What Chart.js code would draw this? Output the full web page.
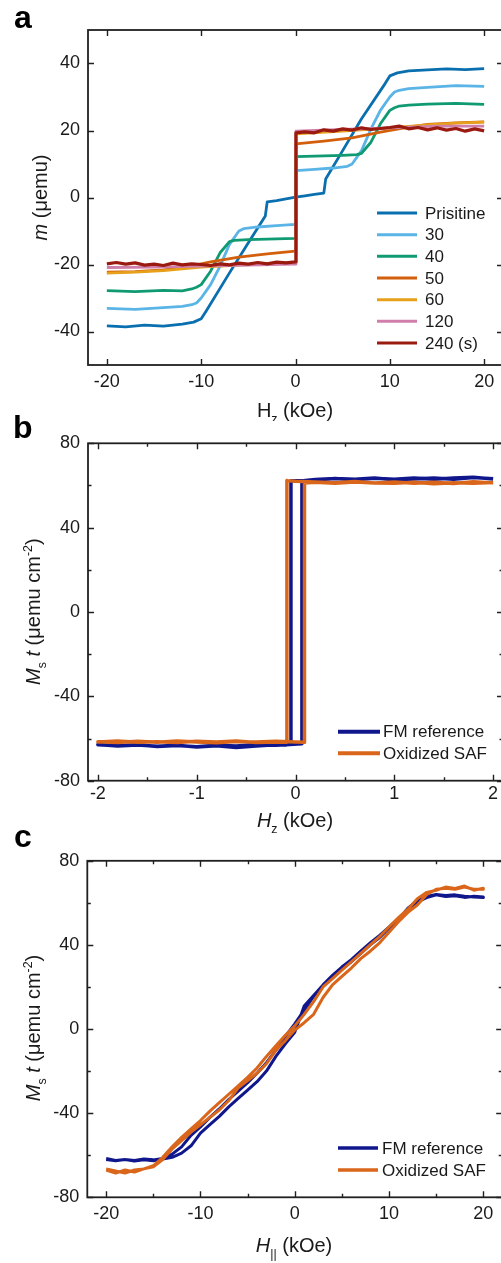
<!DOCTYPE html>
<html><head><meta charset="utf-8">
<script src="https://cdn.jsdelivr.net/npm/chart.js@4.4.0/dist/chart.umd.min.js"></script>
<style>
html,body{margin:0;padding:0;background:#fff;}
#wrap{position:relative;width:501px;height:1263px;overflow:hidden;background:#fff;}
.pc{position:absolute;left:0;width:520px;height:421px;}
.lab{position:absolute;font:bold 32px "Liberation Sans",Arial,sans-serif;line-height:32px;color:#000;}
</style></head>
<body><div id="wrap">
<div class="pc" style="top:0"><canvas id="ca" width="520" height="421"></canvas></div>
<div class="pc" style="top:421px"><canvas id="cb" width="520" height="421"></canvas></div>
<div class="pc" style="top:842px"><canvas id="cc" width="520" height="421"></canvas></div>
<div class="lab" style="left:14px;top:1px">a</div>
<div class="lab" style="left:13px;top:411px">b</div>
<div class="lab" style="left:14px;top:820px">c</div>
</div>
<script>
// ---------- Panel a : m (uemu) vs Hz (kOe) ----------
const aLabels = ['Pristine','30','40','50','60','120','240 (s)'];
const aLegendText = ['Prisitine','30','40','50','60','120','240 (s)'];
const aColors = ['#0a6fae','#5ab4e6','#0f9a72','#d35f0c','#e6a01a','#d07fab','#9a1a10'];
const aPristineH = [-20,-18,-16,-14,-12,-10.8,-10,-9.5,-7,-5,-3.2,-3.0,-2,-1,0,1,2,3.0,3.2,5,7,9.5,10,10.8,12,14,16,18,20];
const aPristineM = [-38.3,-38.6,-38.1,-38.4,-37.8,-37.2,-36.2,-34,-22.5,-13.5,-5.5,-1.3,-0.9,-0.4,0.1,0.5,0.9,1.3,5.5,14,23.5,34,36.3,37.2,37.8,38.1,38.4,38.2,38.5];
const a30H = [-20,-17,-14,-12,-11,-10.5,-10,-9,-8,-7,-6,-5.5,-4,-2,-0.05,0.05,2,4,5.5,6,7,8,9,10,10.5,11,12,14,17,20];
const a30M = [-33.1,-33.4,-32.9,-32.5,-32,-31.5,-30,-26,-20.5,-14,-10,-9.3,-8.8,-8.4,-8,8,8.4,8.8,9.3,10,14,20.5,26,30,31.5,32,32.5,32.9,33.4,33.2];
const a40H = [-20,-17,-14,-12,-11,-10.5,-10,-9,-8,-7,-6.5,-5,-3,-0.05,0.05,3,5,6.5,7,8,9,10,10.5,11,12,14,17,20];
const a40M = [-27.8,-28.1,-27.7,-27.9,-27.3,-26.8,-26,-22,-16.5,-13.2,-12.8,-12.6,-12.4,-12.2,12.2,12.4,12.6,12.8,13.2,16.5,22,26,26.8,27.3,27.6,27.9,28.1,27.8];
const a50H = [-20,-17,-14,-12,-9,-6,-3,-0.05,0.05,3,6,9,12,14,17,20];
const a50M = [-22.3,-22.1,-21.6,-21,-19.2,-17.8,-16.8,-16,16,16.8,17.8,19.5,21,21.8,22.3,22.6];
const a60H = [-20,-17,-14,-10,-5,-0.05,0.05,5,10,14,17,20];
const a60M = [-22.6,-22.3,-21.8,-20.8,-20,-19.4,19,19.8,20.8,21.7,22.2,22.5];
const a120H = [-20,-15,-10,-5,-0.05,0.05,5,10,15,20];
const a120M = [-20.9,-20.8,-20.5,-20.2,-19.9,19.8,20.3,20.8,21.3,21.3];
const a240H = [-20,-19,-18,-17,-16,-15,-14,-13,-12,-11,-10,-9,-8,-7,-6,-5,-4,-3,-2,-1,-0.05,0.05,1,2,3,4,5,6,7,8,9,10,11,12,13,14,15,16,17,18,19,20];
const a240M = [-19.8,-19.4,-19.9,-19.5,-20.2,-19.9,-20.3,-19.6,-20.1,-19.8,-20,-20.3,-19.8,-20.1,-19.6,-19.9,-19.4,-19.8,-19.3,-19.5,-19.2,19.3,19.6,19.3,20.2,19.8,20.5,20.1,20.8,20.3,20.6,20.9,21.3,20.5,20.9,20.2,20.8,20.1,20.6,19.8,20.5,19.9];
const aXTicks = [-20,-10,0,10,20];
const aYTicks = [-40,-20,0,20,40];

// ---------- Panel b : Ms t vs Hz (kOe), out-of-plane ----------
const bLabels = ['FM reference','Oxidized SAF'];
const bColors = ['#10178c','#d9661a'];
const bFmDownH = [2.0,1.8,1.6,1.4,1.2,1.0,0.8,0.6,0.4,0.2,0.1,-0.046,-0.046,-0.1,-0.2,-0.4,-0.6,-0.8,-1.0,-1.2,-1.4,-1.6,-1.8,-2.0];
const bFmDownM = [63.2,63.8,62.9,63.6,63.1,62.7,63.5,62.9,63.3,62.6,62.4,62.2,-62.6,-63.1,-63.0,-63.6,-64.2,-63.4,-64.0,-63.2,-63.7,-63.1,-63.5,-62.8];
const bFmUpH = [-2.0,-1.8,-1.6,-1.4,-1.2,-1.0,-0.8,-0.6,-0.4,-0.2,-0.1,0.065,0.065,0.1,0.2,0.4,0.6,0.8,1.0,1.2,1.4,1.6,1.8,2.0];
const bFmUpM = [-63.0,-63.4,-62.9,-63.8,-63.3,-63.9,-63.2,-63.6,-62.8,-63.2,-62.9,-62.5,62.0,62.4,62.8,63.3,62.7,63.4,63.0,63.6,62.9,63.5,63.9,63.1];
const bOxDownH = [2.0,1.8,1.6,1.4,1.2,1.0,0.8,0.6,0.4,0.2,0.0,-0.087,-0.087,-0.2,-0.4,-0.6,-0.8,-1.0,-1.2,-1.4,-1.6,-1.8,-2.0];
const bOxDownM = [61.2,61.8,60.9,61.5,61.0,61.7,61.2,61.9,61.3,61.6,62.0,62.3,-61.8,-61.6,-61.9,-61.2,-61.7,-61.3,-61.9,-61.5,-61.8,-61.2,-61.6];
const bOxUpH = [-2.0,-1.8,-1.6,-1.4,-1.2,-1.0,-0.8,-0.6,-0.4,-0.2,0.0,0.091,0.091,0.2,0.4,0.6,0.8,1.0,1.2,1.4,1.6,1.8,2.0];
const bOxUpM = [-61.5,-61.9,-61.3,-61.8,-61.2,-61.6,-62.0,-61.4,-61.7,-61.3,-61.6,-61.8,61.2,61.5,61.0,61.6,61.2,61.0,61.5,60.8,61.3,61.1,61.4];
const bXTicks = [-2,-1,0,1,2];
const bXMinor = [-1.5,-0.5,0.5,1.5];
const bYTicks = [-80,-40,0,40,80];
const bYMinor = [-60,-20,20,60];

// ---------- Panel c : Ms t vs H|| (kOe), in-plane ----------
const cUpH = [-20,-19,-18,-17,-16,-15,-14,-13,-12,-11,-10,-9,-8,-7,-6,-5,-4,-3,-2,-1,0,1,2,3,4,5,6,7,8,9,10,11,12,13,14,15,16,17,18,19,20];
const cDownH = [20,19,18,17,16,15,14,13,12,11,10,9,8,7,6,5,4,3,2,1,0,-1,-2,-3,-4,-5,-6,-7,-8,-9,-10,-11,-12,-13,-14,-15,-16,-17,-18,-19,-20];
const cFmUpM = [-61.5,-62.5,-62,-62.8,-62.2,-62.6,-61.8,-61,-59,-55.5,-49.5,-45.5,-41.5,-37,-33,-29,-25,-20,-13,-7,-1.5,11,16,21,25,28.5,32,36,40,43.5,48,52,57.5,61,63,64,63.5,63.8,63.2,62.8,62.5];
const cFmDownM = [62.8,63.1,62.6,63.4,63.0,63.8,62.5,60.5,56.5,52.5,48.5,44.5,41,37,33,29.5,25.5,21,15.5,9,2.5,-3.5,-10,-16,-21,-25.5,-29.5,-33.5,-38,-42,-46.5,-50.5,-56,-59.5,-61.5,-62.2,-61.8,-62.5,-62.0,-62.6,-62.0];
const cOxUpM = [-66.5,-67.5,-68.5,-67,-66.5,-65.5,-62,-57,-53,-49,-45.5,-42,-38.5,-34,-28,-24.5,-21,-16.5,-10,-5.5,-0.5,3,7,15,21,25,29,33.5,37,41,46,51,55.5,59,64,66.5,67,66.5,67.5,66.5,66.5];
const cOxDownM = [67,66,68,66.8,67.5,66,65,62,57,53,48.5,44,40,36,32,28,24,20,13,7,1.5,-3,-8,-13,-18.5,-23,-27,-31,-35,-39,-43.5,-47.5,-51.5,-56,-61,-65,-66.5,-68,-67,-68.5,-67];
const cXTicks = [-20,-10,0,10,20];
const cXMinor = [-15,-5,5,15];
const cYTicks = [-80,-40,0,40,80];
const cYMinor = [-60,-20,20,60];

// ---------- helpers ----------
const FAM = '"Liberation Sans", Arial, Helvetica, sans-serif';
const INK = '#1a1a1a';
function pts(hs, ms) { return hs.map((h, i) => ({x: h, y: ms[i]})); }

function richText(ctx, parts, x, y, size, rotate) {
  const fontFor = p => {
    const small = p.s === 'sub' || p.s === 'sup';
    return (p.i ? 'italic ' : '') + (small ? size * 0.62 : size) + 'px ' + FAM;
  };
  let w = 0;
  parts.forEach(p => { ctx.font = fontFor(p); w += ctx.measureText(p.t).width; });
  ctx.save();
  ctx.translate(x, y);
  if (rotate) ctx.rotate(-Math.PI / 2);
  ctx.textAlign = 'left'; ctx.textBaseline = 'alphabetic'; ctx.fillStyle = INK;
  let cx = -w / 2;
  parts.forEach(p => {
    ctx.font = fontFor(p);
    const dy = p.s === 'sub' ? size * 0.28 : (p.s === 'sup' ? -size * 0.42 : 0);
    ctx.fillText(p.t, cx, dy);
    cx += ctx.measureText(p.t).width;
  });
  ctx.restore();
}

function makeChart(id, cfg) {
  const W = 520, Hc = 421;
  const framePlugin = {
    id: 'frame_' + id,
    afterDatasetsDraw(chart) {
      const {ctx, chartArea: a, scales: {x, y}} = chart;
      ctx.save();
      ctx.strokeStyle = '#202020';
      ctx.lineWidth = 1.4;
      const tick = (vals, len, isX) => vals.forEach(v => {
        ctx.beginPath();
        if (isX) {
          const p = Math.round(x.getPixelForValue(v)) + 0.5;
          ctx.moveTo(p, a.bottom); ctx.lineTo(p, a.bottom - len);
          ctx.moveTo(p, a.top); ctx.lineTo(p, a.top + len);
        } else {
          const p = Math.round(y.getPixelForValue(v)) + 0.5;
          ctx.moveTo(a.left, p); ctx.lineTo(a.left + len, p);
          ctx.moveTo(a.right, p); ctx.lineTo(a.right - len, p);
        }
        ctx.stroke();
      });
      tick(cfg.xTicks, 6, true); tick(cfg.xMinor || [], 3.5, true);
      tick(cfg.yTicks, 6, false); tick(cfg.yMinor || [], 3.5, false);
      ctx.lineWidth = 1.8;
      ctx.strokeRect(a.left, a.top, a.right - a.left, a.bottom - a.top);
      ctx.restore();
    },
    afterDraw(chart) {
      const ctx = chart.ctx;
      richText(ctx, cfg.xTitle.parts, cfg.xTitle.x, cfg.xTitle.y, 20, false);
      richText(ctx, cfg.yTitle.parts, cfg.yTitle.x, cfg.yTitle.y, 20, true);
      const lg = cfg.legend;
      ctx.save();
      ctx.font = '17px ' + FAM; ctx.textBaseline = 'middle'; ctx.textAlign = 'left';
      lg.items.forEach((it, i) => {
        const yy = lg.y0 + i * lg.dy;
        ctx.strokeStyle = it.color; ctx.lineWidth = lg.lw; ctx.lineCap = 'butt';
        ctx.beginPath(); ctx.moveTo(lg.x0, yy); ctx.lineTo(lg.x1, yy); ctx.stroke();
        ctx.fillStyle = INK;
        ctx.fillText(it.text, lg.tx, yy + 1);
      });
      ctx.restore();
    }
  };
  return new Chart(document.getElementById(id), {
    type: 'scatter',
    data: {datasets: cfg.datasets},
    options: {
      responsive: false, animation: false, events: [],
      layout: {padding: {left: 0, top: cfg.area.top, right: W - cfg.area.right, bottom: 0}},
      plugins: {legend: {display: false}, tooltip: {enabled: false}},
      elements: {point: {radius: 0}, line: {tension: 0, borderJoinStyle: 'round'}},
      scales: {
        x: {
          type: 'linear', min: cfg.xMin, max: cfg.xMax,
          grid: {display: false, drawTicks: false}, border: {display: false},
          ticks: {font: {family: FAM, size: 18}, color: INK, padding: cfg.xPad, maxRotation: 0, callback: v => String(v)},
          afterBuildTicks: s => { s.ticks = cfg.xTicks.map(v => ({value: v})); },
          afterFit: s => { s.height = Hc - cfg.area.bottom; }
        },
        y: {
          type: 'linear', min: cfg.yMin, max: cfg.yMax,
          grid: {display: false, drawTicks: false}, border: {display: false},
          ticks: {font: {family: FAM, size: 18}, color: INK, padding: 8, callback: v => String(v)},
          afterBuildTicks: s => { s.ticks = cfg.yTicks.map(v => ({value: v})); },
          afterFit: s => { s.width = cfg.area.left; }
        }
      }
    },
    plugins: [framePlugin]
  });
}

function lineSet(label, data, color, width, order) {
  return {label, data, borderColor: color, backgroundColor: color, borderWidth: width,
          showLine: true, pointRadius: 0, order, fill: false};
}

// Panel a
const aSeries = [[aPristineH, aPristineM],[a30H, a30M],[a40H, a40M],[a50H, a50M],[a60H, a60M],[a120H, a120M],[a240H, a240M]];
makeChart('ca', {
  area: {left: 88, top: 30, right: 503, bottom: 365},
  xMin: -22, xMax: 22, yMin: -50, yMax: 50,
  xTicks: aXTicks, yTicks: aYTicks, xPad: 6,
  datasets: aSeries.map((s, i) => lineSet(aLabels[i], pts(s[0], s[1]), aColors[i], i === 6 ? 3.2 : 2.8, 6 - i)),
  xTitle: {parts: [{t: 'H'}, {t: 'z', s: 'sub'}, {t: ' (kOe)'}], x: 295, y: 417},
  yTitle: {parts: [{t: 'm', i: 1}, {t: ' (\u03bcemu)'}], x: 47, y: 197.5},
  legend: {x0: 377, x1: 417, tx: 425, y0: 213, dy: 21.67, lw: 3,
           items: aLegendText.map((t, i) => ({text: t, color: aColors[i]}))}
});

// Panel b
makeChart('cb', {
  area: {left: 88, top: 22.3, right: 503, bottom: 359.7},
  xMin: -2.1, xMax: 2.1, yMin: -80, yMax: 80,
  xTicks: bXTicks, xMinor: bXMinor, yTicks: bYTicks, yMinor: bYMinor, xPad: 3,
  datasets: [
    lineSet(bLabels[0], pts(bFmDownH.concat(bFmUpH), bFmDownM.concat(bFmUpM)), bColors[0], 3.5, 1),
    lineSet(bLabels[1], pts(bOxDownH.concat(bOxUpH), bOxDownM.concat(bOxUpM)), bColors[1], 3.5, 0)
  ],
  xTitle: {parts: [{t: 'H', i: 1}, {t: 'z', s: 'sub'}, {t: ' (kOe)'}], x: 295, y: 406},
  yTitle: {parts: [{t: 'M', i: 1}, {t: 's', s: 'sub'}, {t: ' '}, {t: 't', i: 1}, {t: ' (\u03bcemu cm'}, {t: '-2', s: 'sup'}, {t: ')'}], x: 40, y: 190.7},
  legend: {x0: 338, x1: 380, tx: 383, y0: 310.7, dy: 21.6, lw: 4,
           items: bLabels.map((t, i) => ({text: t, color: bColors[i]}))}
});

// Panel c
makeChart('cc', {
  area: {left: 87.3, top: 18.7, right: 502.2, bottom: 355.3},
  xMin: -22, xMax: 22, yMin: -80, yMax: 80,
  xTicks: cXTicks, xMinor: cXMinor, yTicks: cYTicks, yMinor: cYMinor, xPad: 6,
  datasets: [
    lineSet(bLabels[0], pts(cUpH.concat(cDownH), cFmUpM.concat(cFmDownM)), bColors[0], 3, 1),
    lineSet(bLabels[1], pts(cUpH.concat(cDownH), cOxUpM.concat(cOxDownM)), bColors[1], 3, 0)
  ],
  xTitle: {parts: [{t: 'H', i: 1}, {t: '||', s: 'sub'}, {t: ' (kOe)'}], x: 294, y: 410},
  yTitle: {parts: [{t: 'M', i: 1}, {t: 's', s: 'sub'}, {t: ' '}, {t: 't', i: 1}, {t: ' (\u03bcemu cm'}, {t: '-2', s: 'sup'}, {t: ')'}], x: 40, y: 186},
  legend: {x0: 338, x1: 378, tx: 382, y0: 306, dy: 22, lw: 3.5,
           items: bLabels.map((t, i) => ({text: t, color: bColors[i]}))}
});
</script>
</body></html>
